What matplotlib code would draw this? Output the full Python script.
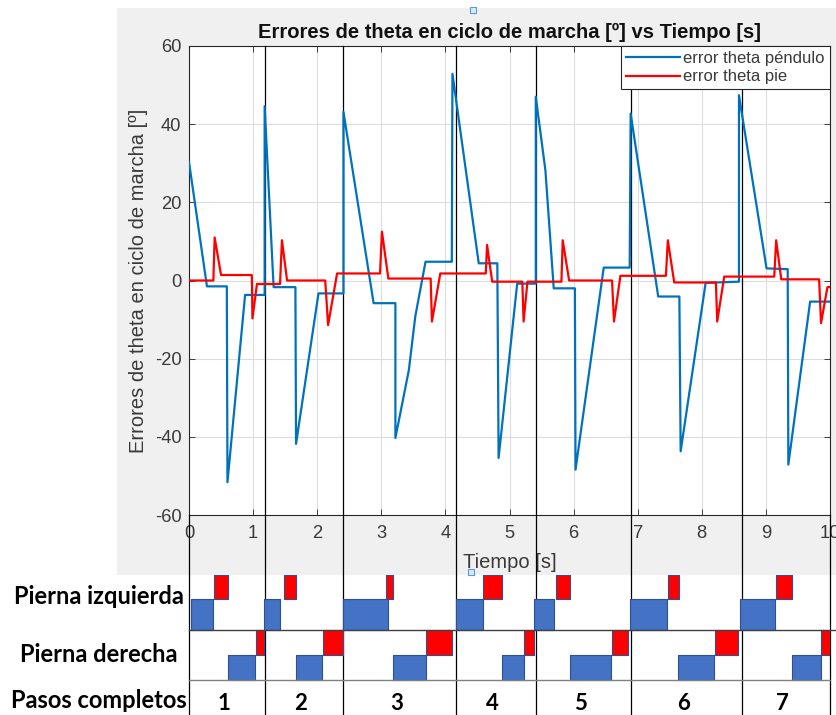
import numpy as np
import matplotlib
matplotlib.use('Agg')
import matplotlib.pyplot as plt
from matplotlib.patches import Rectangle

plt.rcParams['font.family'] = ['Liberation Sans', 'DejaVu Sans']
plt.rcParams['axes.unicode_minus'] = False

# --- datos ---
t_pendulo = [0, 0.28, 0.59, 0.60, 0.875, 1.18, 1.18, 1.32, 1.66, 1.67, 2.02, 2.41, 2.41,
             2.88, 3.22, 3.22, 3.43, 3.53, 3.69, 4.10, 4.11, 4.52, 4.81, 4.83, 5.12, 5.41,
             5.41, 5.56, 5.69, 6.02, 6.03, 6.47, 6.875, 6.89, 7.32, 7.65, 7.67, 8.06, 8.58,
             8.58, 9.01, 9.34, 9.35, 9.69, 10.0]
err_pendulo = [30.3, -1.5, -1.5, -51.6, -3.7, -3.7, 44.6, -1.7, -1.7, -41.8, -3.3, -3.3, 43.1,
               -5.8, -5.8, -40.3, -22.9, -9.2, 4.8, 4.8, 52.9, 4.4, 4.4, -45.4, -0.8, -0.8,
               47.0, 28.2, -2.0, -2.0, -48.4, 3.3, 3.3, 42.7, -4.1, -4.1, -43.7, -0.6, -0.3,
               47.4, 3.1, 2.9, -47.1, -5.4, -5.4]

t_pie = [0, 0.38, 0.40, 0.50, 0.98, 0.99, 1.06, 1.42, 1.45, 1.53, 2.125, 2.17, 2.31, 2.98,
         3.01, 3.11, 3.77, 3.79, 3.92, 4.63, 4.65, 4.73, 5.20, 5.22, 5.28, 5.81, 5.83, 5.93,
         6.60, 6.63, 6.73, 7.44, 7.47, 7.57, 8.22, 8.24, 8.35, 9.13, 9.16, 9.24, 9.83, 9.86,
         9.96, 10.0]
err_pie = [0, 0, 11.0, 1.4, 1.4, -9.7, -0.9, -0.9, 10.3, 0, 0, -11.4, 1.8, 1.8,
           12.5, 0.5, 0.5, -10.5, 1.8, 1.8, 9.1, -0.3, -0.3, -10.5, -0.3, -0.3, 10.3, 0,
           0, -10.5, 1.2, 1.2, 10.3, -0.5, -0.5, -10.5, 1.0, 1.0, 10.3, 0.3, 0.3, -10.9,
           -1.7, -1.7]

# limites de cada paso completo [s]
limites_pasos = [0, 1.18, 2.41, 4.16, 5.42, 6.90, 8.63, 10.0]
pasos = ['1', '2', '3', '4', '5', '6', '7']

# fases (inicio, fin) [s]
izq_apoyo = [(0.03, 0.37), (1.17, 1.42), (2.41, 3.10), (4.16, 4.58), (5.39, 5.69), (6.88, 7.45), (8.60, 9.14)]
izq_balanceo = [(0.39, 0.61), (1.48, 1.67), (3.07, 3.19), (4.59, 4.88), (5.72, 5.95), (7.48, 7.65), (9.16, 9.41)]
der_apoyo = [(0.61, 1.03), (1.67, 2.07), (3.19, 3.69), (4.88, 5.22), (5.95, 6.59), (7.63, 8.19), (9.41, 9.86)]
der_balanceo = [(1.04, 1.17), (2.09, 2.40), (3.69, 4.10), (5.23, 5.39), (6.60, 6.85), (8.21, 8.57), (9.86, 10.0)]

W, H = 837, 715
fig = plt.figure(figsize=(W / 100, H / 100), dpi=100)


def caja(x0, y0, x1, y1):
    # pixeles (desde arriba) -> fraccion de figura
    return [x0 / W, 1 - y1 / H, (x1 - x0) / W, (y1 - y0) / H]


fig.patches.append(Rectangle((117 / W, 1 - 575 / H), 1 - 117 / W, (575 - 8) / H,
                             transform=fig.transFigure, facecolor='#f0f0f0',
                             edgecolor='none', zorder=-10))

gris = '#262626'
ax = fig.add_axes(caja(189, 46, 830, 515))
ax.plot(t_pendulo, err_pendulo, color='#0072BD', lw=1.6, label='error theta péndulo', zorder=4)
ax.plot(t_pie, err_pie, color='#FF0000', lw=1.6, label='error theta pie', zorder=4)
ax.set_xlim(0, 10)
ax.set_ylim(-60, 60)
ax.set_xticks(range(0, 11))
ax.set_yticks(range(-60, 61, 20))
ax.grid(True, color='#dcdcdc', lw=0.8)
ax.set_axisbelow(True)
ax.tick_params(direction='in', top=True, right=True, length=4, width=0.6,
               labelsize=13.2, colors=gris, labelcolor='#3a3a3a', pad=5.5)
ax.tick_params(axis='x', pad=7)
for s in ax.spines.values():
    s.set_color(gris)
    s.set_linewidth(0.8)
ax.set_title('Errores de theta en ciclo de marcha [º] vs Tiempo [s]',
             fontsize=14.5, fontweight='bold', color='#111111', pad=6)
ax.set_xlabel('Tiempo [s]', fontsize=14.5, color='#3a3a3a', labelpad=8)
ax.set_ylabel('Errores de theta en ciclo de marcha [º]', fontsize=14.5, color='#3a3a3a', labelpad=5)
leg = ax.legend(loc='upper right', fontsize=12, fancybox=False, framealpha=1,
                edgecolor=gris, borderaxespad=0, handlelength=3.25, labelspacing=0.2,
                handletextpad=0.2, borderpad=0.3)
leg.get_frame().set_linewidth(0.8)
for txt in leg.get_texts():
    txt.set_color('#3a3a3a')
leg.set_zorder(10)

# lineas verticales de los pasos (atraviesan grafica y tabla)
trans = ax.get_xaxis_transform()
y_abajo = -(715 - 515) / (515 - 46)
for s in limites_pasos:
    y_arriba = 1 if 0 < s < 10 else 0
    ax.plot([s, s], [y_abajo, y_arriba], transform=trans, color='black', lw=0.9,
            clip_on=False, zorder=3)

# tabla de fases
tab = fig.add_axes(caja(189, 575, 830, 715))
tab.set_xlim(0, 10)
tab.set_ylim(0, 140)
tab.axis('off')
tab.patch.set_alpha(0)

azul, rojo, borde = '#4472C4', '#FF0000', '#2F528F'
tab.broken_barh([(a, b - a) for a, b in izq_apoyo], (85, 31), facecolors=azul, edgecolors=borde, lw=0.8)
tab.broken_barh([(a, b - a) for a, b in izq_balanceo], (116, 24), facecolors=rojo, edgecolors=borde, lw=0.8)
tab.broken_barh([(a, b - a) for a, b in der_apoyo], (35, 25), facecolors=azul, edgecolors=borde, lw=0.8)
tab.broken_barh([(a, b - a) for a, b in der_balanceo], (60, 25), facecolors=rojo, edgecolors=borde, lw=0.8)
tab.plot([0, 10.1], [85, 85], color='#404040', lw=1.0, clip_on=False)
tab.plot([0, 10], [35, 35], color='#808080', lw=1.0, clip_on=False)

for i, p in enumerate(pasos):
    centro = (limites_pasos[i] + limites_pasos[i + 1]) / 2 - 0.05
    tab.text(centro, 12, p, ha='center', va='center', fontsize=16, fontweight='bold', family='Lato')

for nombre, y in [('Pierna izquierda', 597), ('Pierna derecha', 655), ('Pasos completos', 701)]:
    fig.text(99 / W, 1 - y / H, nombre, ha='center', va='center', fontsize=17,
             fontweight='bold', family='Lato')

# cuadritos de seleccion de MATLAB
for x, y in [(473, 10), (471, 572)]:
    fig.patches.append(Rectangle(((x - 3) / W, 1 - (y + 3) / H), 6 / W, 6 / H,
                                 transform=fig.transFigure, facecolor='#dbe9f7',
                                 edgecolor='#5b9bd5', lw=0.8, zorder=20))

fig.savefig('out.png', dpi=100)
